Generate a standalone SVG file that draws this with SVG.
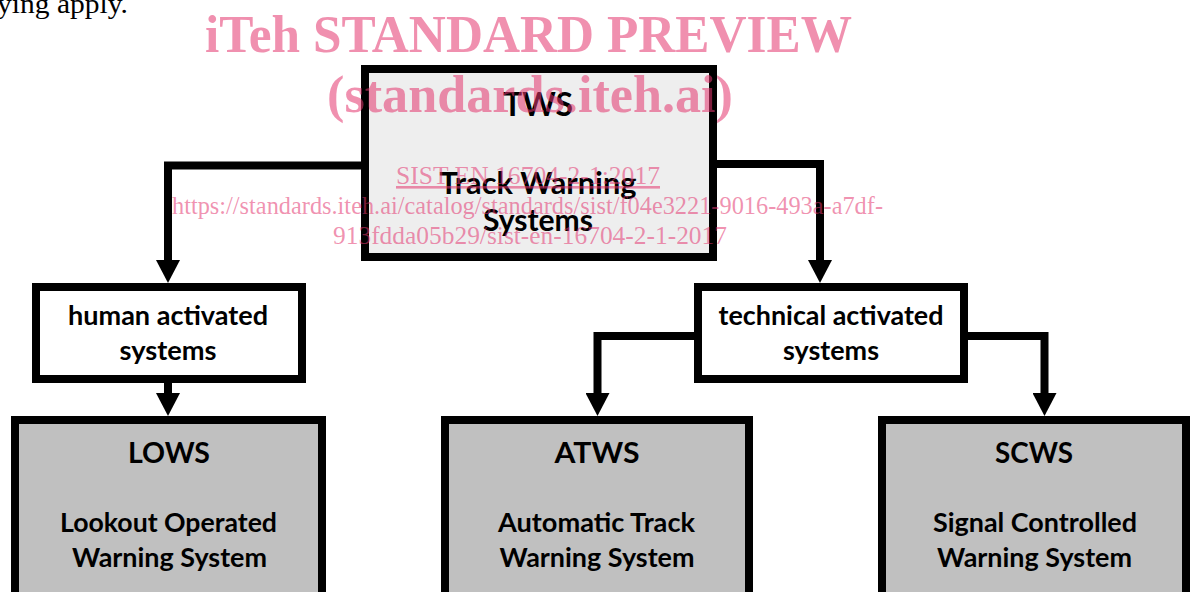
<svg xmlns="http://www.w3.org/2000/svg" width="1190" height="592" viewBox="0 0 1190 592">
<style>
.box{stroke:#000;stroke-width:8}
.top{fill:#eeeeee}
.mid{fill:#ffffff}
.leaf{fill:#c0c0c0}
.t{font-family:Lato,"Open Sans","Liberation Sans",sans-serif;font-weight:bold;fill:#000;text-anchor:middle}
.conn{fill:none;stroke:#000;stroke-width:8;stroke-linejoin:miter}
.wm{font-family:"Liberation Serif","Times New Roman",serif;fill:#e3346e;fill-opacity:0.55;text-anchor:middle}
</style>
<defs>
<marker id="ah" viewBox="0 0 23 24" refX="0" refY="12" markerWidth="23" markerHeight="24" markerUnits="userSpaceOnUse" orient="auto">
<path d="M0,0 L23,12 L0,24 Z" fill="#000"/>
</marker>
</defs>
<rect width="1190" height="592" fill="#fff"/>
<text x="-3" y="13" font-family="'Liberation Serif',serif" font-size="28" fill="#000" textLength="131" lengthAdjust="spacingAndGlyphs">ying apply.</text>

<g id="connectors">
<polyline class="conn" points="361,165.5 168,165.5 168,260" marker-end="url(#ah)"/>
<polyline class="conn" points="717,164 820,164 820,260" marker-end="url(#ah)"/>
<polyline class="conn" points="168,383 168,393" marker-end="url(#ah)"/>
<polyline class="conn" points="694,336 597.5,336 597.5,393" marker-end="url(#ah)"/>
<polyline class="conn" points="968,336 1044.5,336 1044.5,393" marker-end="url(#ah)"/>
</g>

<g id="tws">
<rect class="box top" x="365" y="69" width="348" height="188"/>
<text class="t" x="538" y="116" font-size="33" textLength="70" lengthAdjust="spacingAndGlyphs">TWS</text>
<text class="t" x="538" y="194" font-size="31" textLength="197" lengthAdjust="spacingAndGlyphs">Track Warning</text>
<text class="t" x="538" y="231" font-size="31" textLength="110" lengthAdjust="spacingAndGlyphs">Systems</text>
</g>

<g id="human">
<rect class="box mid" x="36" y="287" width="266" height="92"/>
<text class="t" x="168" y="325" font-size="27" textLength="200" lengthAdjust="spacingAndGlyphs">human activated</text>
<text class="t" x="168" y="360" font-size="27" textLength="97" lengthAdjust="spacingAndGlyphs">systems</text>
</g>

<g id="technical">
<rect class="box mid" x="698" y="287" width="266" height="92"/>
<text class="t" x="831" y="325" font-size="27" textLength="225" lengthAdjust="spacingAndGlyphs">technical activated</text>
<text class="t" x="831" y="360" font-size="27" textLength="96" lengthAdjust="spacingAndGlyphs">systems</text>
</g>

<g id="lows">
<rect class="box leaf" x="15" y="420" width="307" height="200"/>
<text class="t" x="169" y="463" font-size="29" textLength="82" lengthAdjust="spacingAndGlyphs">LOWS</text>
<text class="t" x="168.5" y="532" font-size="27" textLength="217" lengthAdjust="spacingAndGlyphs">Lookout Operated</text>
<text class="t" x="169.5" y="567" font-size="27" textLength="195" lengthAdjust="spacingAndGlyphs">Warning System</text>
</g>

<g id="atws">
<rect class="box leaf" x="445" y="420" width="304" height="200"/>
<text class="t" x="597" y="463" font-size="29" textLength="85" lengthAdjust="spacingAndGlyphs">ATWS</text>
<text class="t" x="596.5" y="532" font-size="27" textLength="197" lengthAdjust="spacingAndGlyphs">Automatic Track</text>
<text class="t" x="597" y="567" font-size="27" textLength="195" lengthAdjust="spacingAndGlyphs">Warning System</text>
</g>

<g id="scws">
<rect class="box leaf" x="882" y="420" width="304" height="200"/>
<text class="t" x="1034" y="463" font-size="29" textLength="78" lengthAdjust="spacingAndGlyphs">SCWS</text>
<text class="t" x="1035" y="532" font-size="27" textLength="204" lengthAdjust="spacingAndGlyphs">Signal Controlled</text>
<text class="t" x="1034.5" y="567" font-size="27" textLength="195" lengthAdjust="spacingAndGlyphs">Warning System</text>
</g>

<g id="watermark">
<text class="wm" x="528.5" y="52" font-size="52" font-weight="bold" textLength="647" lengthAdjust="spacingAndGlyphs">iTeh STANDARD PREVIEW</text>
<text class="wm" x="530" y="112" font-size="52" font-weight="bold" textLength="406" lengthAdjust="spacingAndGlyphs">(standards.iteh.ai)</text>
<text class="wm" x="528" y="184" font-size="26" text-decoration="underline" textLength="264" lengthAdjust="spacingAndGlyphs">SIST EN 16704-2-1:2017</text>
<text class="wm" x="527.5" y="214" font-size="26" textLength="711" lengthAdjust="spacingAndGlyphs">https://standards.iteh.ai/catalog/standards/sist/f04e3221-9016-493a-a7df-</text>
<text class="wm" x="530" y="244" font-size="26" textLength="394" lengthAdjust="spacingAndGlyphs">913fdda05b29/sist-en-16704-2-1-2017</text>
</g>
</svg>
